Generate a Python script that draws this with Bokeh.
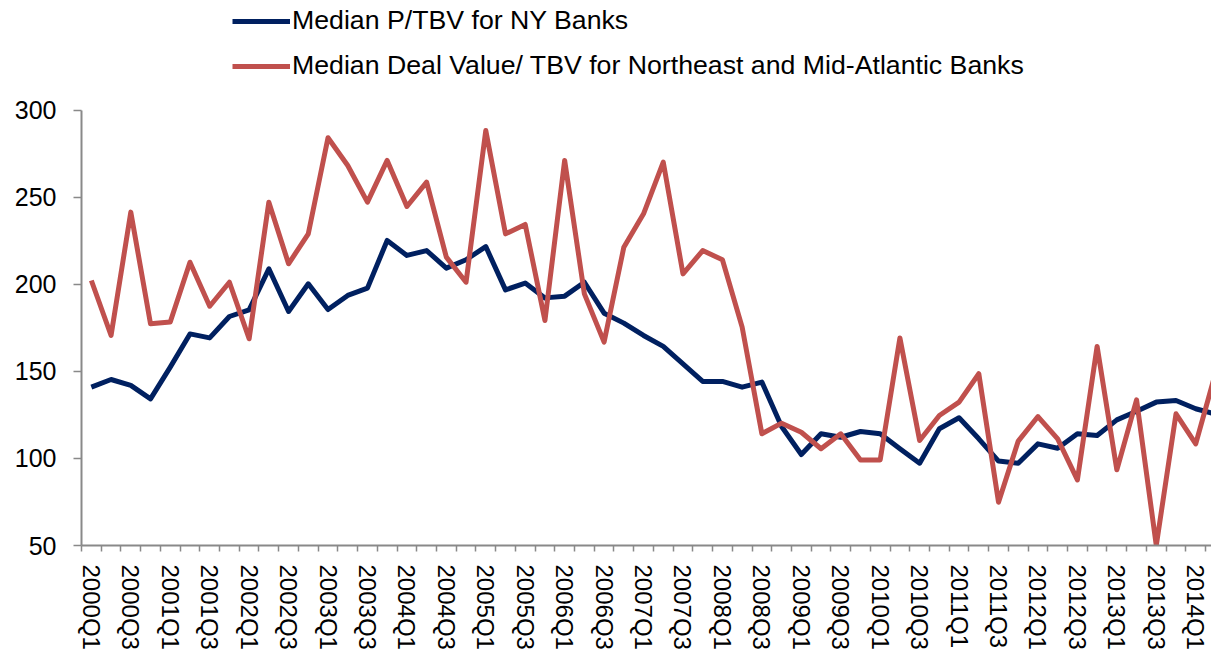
from bokeh.plotting import figure
from bokeh.models import Range1d, FixedTicker, Legend, LegendItem
from bokeh.embed import file_html
from bokeh.resources import INLINE

quarters = [
    "2000Q1", "2000Q2", "2000Q3", "2000Q4", "2001Q1", "2001Q2", "2001Q3", "2001Q4",
    "2002Q1", "2002Q2", "2002Q3", "2002Q4", "2003Q1", "2003Q2", "2003Q3", "2003Q4",
    "2004Q1", "2004Q2", "2004Q3", "2004Q4", "2005Q1", "2005Q2", "2005Q3", "2005Q4",
    "2006Q1", "2006Q2", "2006Q3", "2006Q4", "2007Q1", "2007Q2", "2007Q3", "2007Q4",
    "2008Q1", "2008Q2", "2008Q3", "2008Q4", "2009Q1", "2009Q2", "2009Q3", "2009Q4",
    "2010Q1", "2010Q2", "2010Q3", "2010Q4", "2011Q1", "2011Q2", "2011Q3", "2011Q4",
    "2012Q1", "2012Q2", "2012Q3", "2012Q4", "2013Q1", "2013Q2", "2013Q3", "2013Q4",
    "2014Q1", "2014Q2",
]

ny_ptbv = [
    141.0, 145.4, 142.0, 134.3, 152.5, 171.6, 169.3, 181.6, 185.4, 209.0,
    184.5, 200.4, 185.6, 193.7, 197.9, 225.3, 216.7, 219.5, 209.4, 214.2,
    221.8, 196.9, 200.8, 192.3, 193.3, 201.3, 183.5, 177.8, 170.7, 164.4,
    154.4, 144.3, 144.3, 141.0, 143.9, 118.4, 102.3, 114.2, 112.2, 115.5,
    114.2, 105.6, 97.3, 117.1, 123.4, 111.3, 98.5, 97.3, 108.4, 105.9,
    114.2, 113.2, 122.2, 127.2, 132.4, 133.3, 128.6, 125.5,
]

deal_tbv = [
    202.3, 170.7, 241.6, 177.4, 178.4, 212.8, 187.5, 201.3, 168.8, 247.3,
    211.9, 229.1, 284.3, 268.4, 247.3, 271.3, 244.8, 258.8, 215.7, 201.3,
    288.5, 229.1, 234.5, 179.3, 271.3, 194.6, 166.9, 221.4, 240.6, 270.3,
    206.1, 219.5, 214.2, 175.5, 114.2, 120.3, 115.1, 105.6, 114.2, 99.2,
    99.2, 169.3, 110.3, 124.7, 132.4, 148.7, 74.9, 110.0, 124.1, 111.3,
    87.7, 164.4, 93.5, 133.7, 50.0, 125.7, 108.4, 149.0,
]

y_ticks = [50, 100, 150, 200, 250, 300]

BLUE = "#002060"
RED = "#C0504D"
AXIS = "#898989"
FONT = "Liberation Sans"

xs = [i + 0.5 for i in range(len(quarters))]

p = figure(
    width=1211, height=657,
    x_range=Range1d(0, 57.3), y_range=Range1d(50, 363.2),
    output_backend="svg", toolbar_location=None,
    min_border_left=81, min_border_right=0, min_border_top=0, min_border_bottom=112,
)
p.outline_line_color = None
p.grid.grid_line_color = None
p.background_fill_color = "white"

r_blue = p.line(xs, ny_ptbv, line_color=BLUE, line_width=5, line_join="round")
r_red = p.line(xs, deal_tbv, line_color=RED, line_width=5, line_join="round")

label_pos = [xs[i] for i in range(0, len(quarters), 2)]
boundaries = list(range(0, len(quarters) + 1))
p.xaxis.ticker = FixedTicker(ticks=label_pos, minor_ticks=boundaries)
p.xaxis.major_label_overrides = {xs[i]: quarters[i] for i in range(0, len(quarters), 2)}
p.xaxis.major_label_orientation = "vertical"
p.xaxis.major_tick_out = 0
p.xaxis.major_tick_in = 0
p.xaxis.minor_tick_out = 6
p.xaxis.minor_tick_in = 0
p.xaxis.minor_tick_line_color = AXIS
p.xaxis.minor_tick_line_width = 1.5
p.xaxis.major_label_standoff = 13
p.xaxis.major_label_text_font_size = "24px"

p.yaxis.ticker = FixedTicker(ticks=y_ticks)
p.yaxis.bounds = (50, 300)
p.yaxis.major_tick_out = 8
p.yaxis.major_tick_in = 0
p.yaxis.minor_tick_line_color = None
p.yaxis.major_tick_line_color = AXIS
p.yaxis.major_tick_line_width = 1.5
p.yaxis.major_label_standoff = 17
p.yaxis.major_label_text_font_size = "25px"

for ax in (p.xaxis, p.yaxis):
    ax.axis_line_color = AXIS
    ax.axis_line_width = 2
    ax.major_label_text_font = FONT
    ax.major_label_text_color = "black"

legend = Legend(
    items=[
        LegendItem(label="Median P/TBV for NY Banks", renderers=[r_blue]),
        LegendItem(label="Median Deal Value/ TBV for Northeast and Mid-Atlantic Banks", renderers=[r_red]),
    ],
    location=(151, 464),
    orientation="vertical",
    glyph_width=58, glyph_height=30, label_height=30, spacing=14,
    padding=0, margin=0, label_standoff=2,
    label_text_font=FONT, label_text_font_size="26.7px", label_text_color="black",
    border_line_color=None, background_fill_alpha=0,
)
p.add_layout(legend, "center")

open("out.html", "w").write(file_html(p, INLINE))
